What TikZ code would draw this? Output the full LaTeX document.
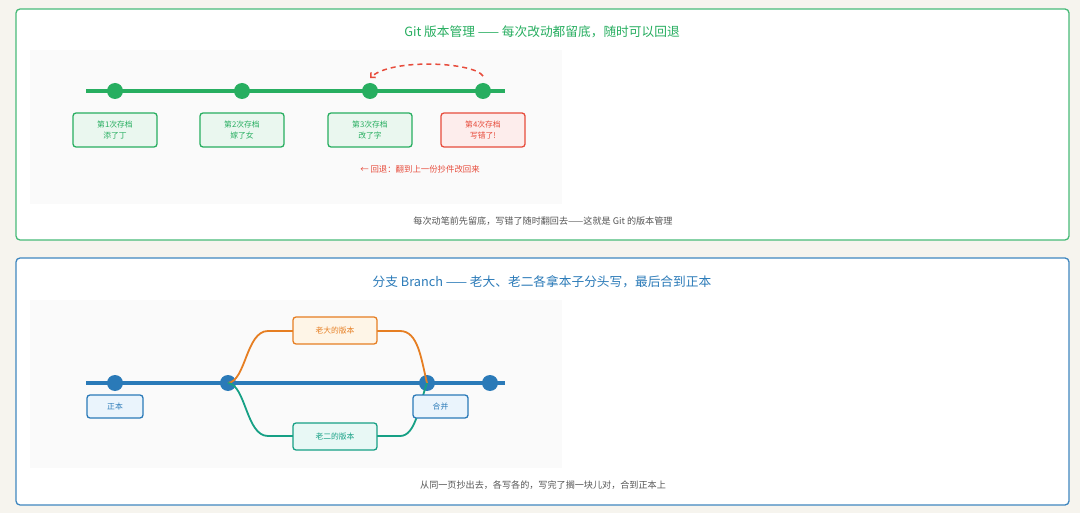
\documentclass[tikz,border=0pt]{standalone}
\usepackage{fontspec}
\setmainfont{Noto Sans CJK SC}
\usetikzlibrary{arrows.meta}
\definecolor{bgc}{HTML}{F6F4EE}
\definecolor{grayarea}{HTML}{FAFAFA}
\definecolor{gitgreen}{HTML}{27AE60}
\definecolor{gitgreenfill}{HTML}{EAF7EF}
\definecolor{gitred}{HTML}{E74C3C}
\definecolor{gitredfill}{HTML}{FDEDEC}
\definecolor{gitblue}{HTML}{2A7AB8}
\definecolor{gitbluefill}{HTML}{EAF4FC}
\definecolor{gitorange}{HTML}{E67E22}
\definecolor{gitorangefill}{HTML}{FEF5E7}
\definecolor{gitteal}{HTML}{16A085}
\definecolor{gittealfill}{HTML}{E8F8F5}
\definecolor{captext}{HTML}{555555}
\tikzset{
  panel/.style={fill=white, rounded corners=4pt, line width=1.3pt},
  area/.style={fill=grayarea, draw=none},
  ttl/.style={font=\fontsize{12.7}{15}\selectfont, anchor=center},
  captiontext/.style={font=\fontsize{9.1}{11}\selectfont, text=captext, anchor=center},
  dotnode/.style={circle, inner sep=0pt, minimum size=16pt, fill=#1},
  savebox/.style={draw=#1, rounded corners=3pt, line width=1.3pt, align=center,
     minimum width=84pt, minimum height=34pt, inner sep=0pt,
     font=\fontsize{7.8}{11}\selectfont},
  smallbox/.style={draw=#1, rounded corners=3pt, line width=1.3pt, align=center,
     minimum height=23pt, inner sep=0pt, font=\fontsize{7.8}{9}\selectfont},
  mainline/.style={line width=3.5pt},
  branch/.style={line width=1.8pt},
}
\begin{document}
\begin{tikzpicture}[x=1pt,y=-1pt]
\useasboundingbox (0,0) rectangle (1080,513);
\fill[bgc] (0,0) rectangle (1080,513);

% ---------- Panel 1 ----------
\draw[panel, draw=gitgreen!85] (16,9) rectangle (1069,240);
\fill[area] (30,50) rectangle (562,204);
\node[ttl, text=gitgreen] (t1) at (542,32) {Git 版本管理 —— 每次改动都留底，随时可以回退};

\coordinate (s1) at (86,91);
\coordinate (e1) at (505,91);
\draw[mainline, gitgreen] (s1) -- (e1);
\node[dotnode=gitgreen] (c1) at (115,91) {};
\node[dotnode=gitgreen] (c2) at (242,91) {};
\node[dotnode=gitgreen] (c3) at (370,91) {};
\node[dotnode=gitgreen] (c4) at (483,91) {};

\node[savebox=gitgreen, fill=gitgreenfill, text=gitgreen] (k1) at (115,130) {第1次存档\\添了丁};
\node[savebox=gitgreen, fill=gitgreenfill, text=gitgreen] (k2) at (242,130) {第2次存档\\嫁了女};
\node[savebox=gitgreen, fill=gitgreenfill, text=gitgreen] (k3) at (370,130) {第3次存档\\改了字};
\node[savebox=gitred, fill=gitredfill, text=gitred] (k4) at (483,130) {第4次存档\\写错了!};

\coordinate (a4) at (483,76);
\coordinate (a3) at (370,78);
\draw[gitred, line width=1.5pt, dash pattern=on 5pt off 4pt,
      -{Straight Barb[length=3.5pt,width=7pt]}]
  (a4) .. controls (474,62) and (392,58) .. (a3);
\node[font=\fontsize{8.4}{10}\selectfont, text=gitred] (n1) at (420,169) {← 回退：翻到上一份抄件改回来};

\node[captiontext] (cp1) at (543,221) {每次动笔前先留底，写错了随时翻回去——这就是 Git 的版本管理};

% ---------- Panel 2 ----------
\draw[panel, draw=gitblue!90] (16,258) rectangle (1069,505);
\fill[area] (30,300) rectangle (562,468);
\node[ttl, text=gitblue] (t2) at (542,282) {分支 Branch —— 老大、老二各拿本子分头写，最后合到正本};

\coordinate (s2) at (86,383);
\coordinate (e2) at (505,383);
\draw[mainline, gitblue] (s2) -- (e2);
\node[dotnode=gitblue] (b1) at (115,383) {};
\node[dotnode=gitblue] (b2) at (228,383) {};
\node[dotnode=gitblue] (b3) at (427,383) {};
\node[dotnode=gitblue] (b4) at (490,383) {};

\coordinate (o1) at (268,331);
\coordinate (o2) at (400,331);
\coordinate (g1) at (268,436);
\coordinate (g2) at (400,436);
\draw[branch, gitorange] (b2.center) .. controls (246,381) and (246,331) .. (o1) -- (o2)
   .. controls (418,331) and (421,358) .. (b3.center);
\draw[branch, gitteal] (b2.center) .. controls (246,385) and (246,436) .. (g1) -- (g2)
   .. controls (416,436) and (419,405) .. (b3.center);

\node[savebox=gitorange, fill=gitorangefill, text=gitorange, minimum height=27pt, font=\fontsize{7.8}{9}\selectfont] (big) at (335,330.5) {老大的版本};
\node[savebox=gitteal, fill=gittealfill, text=gitteal, minimum height=27pt, font=\fontsize{7.8}{9}\selectfont] (small) at (335,436.5) {老二的版本};

\node[smallbox=gitblue, fill=gitbluefill, text=gitblue, minimum width=56pt] (zb) at (115,406.5) {正本};
\node[smallbox=gitblue, fill=gitbluefill, text=gitblue, minimum width=55pt] (hb) at (440.5,406.5) {合并};

\node[captiontext] (cp2) at (543,485) {从同一页抄出去，各写各的，写完了搁一块儿对，合到正本上};
\end{tikzpicture}
\end{document}
